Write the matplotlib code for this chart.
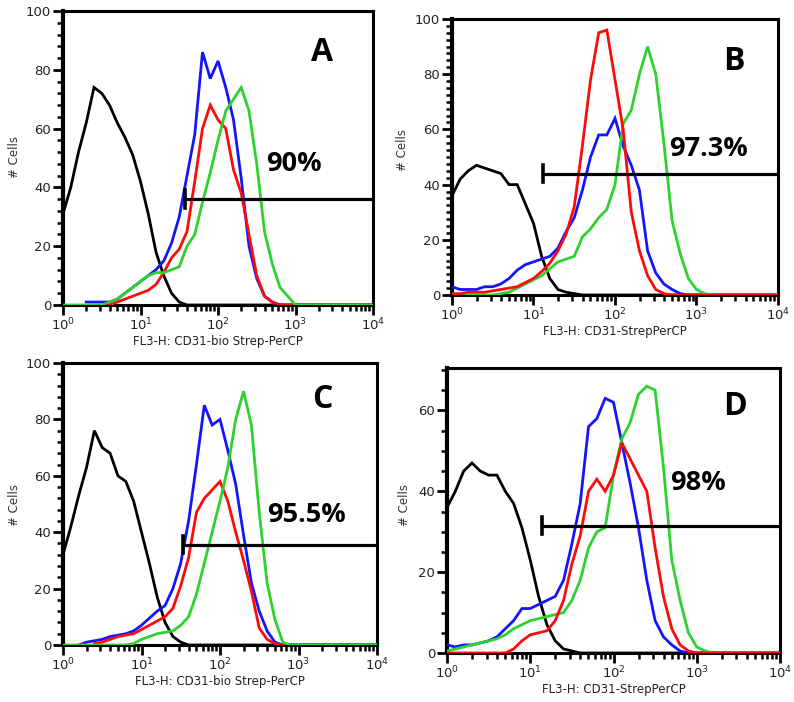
import numpy as np
import matplotlib
matplotlib.use("Agg")
import matplotlib.pyplot as plt
from matplotlib.ticker import LogLocator, MultipleLocator, NullFormatter

# channel grid: log10 decades 0.0 .. 4.0 in steps of 0.1
decades = np.round(np.arange(0, 41) * 0.1, 1)

# ---- Panel A ----
a_black = (0.0, [31, 40, 52, 62, 74, 72, 68, 62, 57, 51, 42, 31, 18, 10, 4, 1, 0])
a_blue = (0.3, [1, 1, 1, 1, 2, 4, 6, 8, 10, 12, 15, 21, 30, 44, 58, 86, 77, 83, 74, 63, 43, 20, 9, 3, 1, 0])
a_red = (0.6, [0, 1, 2, 3, 4, 5, 7, 11, 16, 19, 25, 42, 60, 68, 63, 60, 46, 38, 24, 10, 3, 1, 0])
a_green = (0.0, [0, 0, 0, 0, 0, 0, 1, 2, 4, 6, 8, 10, 11, 11, 12, 13, 20, 24, 35, 45, 56, 66, 70, 74, 66, 48, 25, 14, 6, 3, 0])

# ---- Panel B ----
b_black = (0.0, [36, 42, 45, 47, 46, 45, 44, 40, 40, 33, 26, 14, 6, 2, 1, 0.5, 0])
b_blue = (0.0, [3, 2, 2, 2, 3, 3, 4, 6, 9, 11, 12, 13, 14, 17, 23, 28, 38, 50, 58, 58, 64, 54, 47, 38, 16, 8, 4, 2, 0.5, 0])
b_green = (0.0, [0, 0, 0, 0, 0, 0, 0.5, 1, 2.5, 4, 5.5, 7, 9.5, 12, 13, 14, 21, 24, 28, 31, 40, 62, 67, 80, 90, 80, 55, 27, 15, 6, 2, 0.5, 0])
b_red = (0.0, [0.5, 0.5, 1, 1, 1, 1.5, 2, 2.5, 3, 4.5, 6, 8.5, 11.5, 16, 22, 32, 54, 78, 95, 96, 78, 60, 30, 16, 7, 2, 0.5, 0])

# ---- Panel C ----
c_black = (0.0, [32, 42, 53, 63, 76, 70, 68, 60, 58, 51, 40, 29, 17, 8, 3, 1, 0])
c_blue = (0.2, [0, 1, 1.5, 2, 3, 3.5, 4, 5, 7, 9.5, 12, 14, 20, 29, 44, 64, 85, 78, 80, 69, 57, 39, 22, 12, 5, 1, 0])
c_red = (0.4, [0.5, 1, 2, 3, 3.5, 4, 5.5, 7, 8.5, 10, 13, 21, 31, 47, 52, 55, 58, 51, 40, 30, 19, 6, 2, 0.5, 0])
c_green = (0.0, [0, 0, 0, 0, 0, 0, 0, 0, 0, 0.5, 2, 3, 4, 4.5, 5, 7, 10, 18, 29, 40, 51, 63, 80, 90, 78, 47, 22, 9, 1, 0])

# ---- Panel D ----
d_black = (0.0, [36, 40, 45, 47, 45, 44, 44, 40, 37, 31, 23, 14, 7, 3, 1, 0.5, 0])
d_blue = (0.0, [2, 1.5, 2, 2, 2.5, 3, 4, 6, 8, 11, 11, 12, 13, 14, 18, 27, 37, 56, 58, 63, 62, 52, 42, 31, 18, 8, 4, 2, 0.5, 0])
d_green = (0.0, [0.5, 1, 1.5, 2, 2.5, 3, 3.5, 4.5, 6, 7, 8, 8.5, 9, 9.5, 10, 13, 18, 26, 30, 31, 44, 53, 57, 64, 66, 65, 46, 23, 13, 5, 1.5, 0.5, 0])
d_red = (0.0, [0, 0, 0, 0, 0, 0, 0, 0, 1, 3, 4.5, 5, 5.5, 8, 13, 22, 29, 40, 43, 40, 44, 52, 48, 44, 40, 26, 14, 6, 2, 0.5, 0])

panel_letters = ["A", "B", "C", "D"]
percents = ["90%", "97.3%", "95.5%", "98%"]
gate_start = [37, 13, 34, 14]       # gate marker start (FL3-H)
gate_level = [36, 44, 35.5, 31.5]    # gate height (# cells)
ymax = [100, 100, 100, 70.5]
xlabels = ["FL3-H: CD31-bio Strep-PerCP", "FL3-H: CD31-StrepPerCP",
           "FL3-H: CD31-bio Strep-PerCP", "FL3-H: CD31-StrepPerCP"]

COL = {"black": "#000000", "blue": "#1414ff", "red": "#ff0a0a", "green": "#2fd12f"}

panels = [
    [("black", a_black), ("blue", a_blue), ("red", a_red), ("green", a_green)],
    [("black", b_black), ("blue", b_blue), ("green", b_green), ("red", b_red)],
    [("black", c_black), ("blue", c_blue), ("red", c_red), ("green", c_green)],
    [("black", d_black), ("blue", d_blue), ("green", d_green), ("red", d_red)],
]

W, H = 794, 702
boxes = [  # left, bottom(px from top), right, top(px from top)
    (63, 305, 373, 11),
    (452, 295, 778, 19),
    (63, 645, 377, 363),
    (447, 653, 780, 368),
]
text_pos = [(0.655, 0.48), (0.665, 0.53), (0.650, 0.46), (0.670, 0.595)]
letter_pos = [(0.835, 0.86), (0.865, 0.845), (0.825, 0.87), (0.865, 0.865)]
ylab_pos = [(15, 157), (402, 150), (15, 505), (404, 505)]
minor_step = [4, 2.5, 4, 5]


def series(spec):
    start, vals = spec
    y = np.full(decades.shape, np.nan)
    i0 = int(round(start * 10))
    y[i0:i0 + len(vals)] = vals
    y[i0 + len(vals):] = 0.0
    return 10 ** decades, y


fig = plt.figure(figsize=(W / 100, H / 100), dpi=100)
for k in range(4):
    l, b, r, t = boxes[k]
    ax = fig.add_axes([l / W, 1 - b / H, (r - l) / W, (b - t) / H])
    for cname, spec in panels[k]:
        x, y = series(spec)
        ax.plot(x, y, color=COL[cname], lw=2.0, solid_joinstyle="miter", zorder=3)
    ax.set_xscale("log")
    ax.set_xlim(1, 1e4)
    ax.set_ylim(0, ymax[k])
    # gate
    g0, gl = gate_start[k], gate_level[k]
    ax.plot([g0, 1e4], [gl, gl], color="black", lw=2.3, zorder=4, solid_capstyle="butt")
    ax.plot([g0, g0], [gl - ymax[k] * 0.03, gl + ymax[k] * 0.03], color="black", lw=2.6, zorder=4)
    ax.text(*text_pos[k], percents[k], transform=ax.transAxes, fontsize=19.5,
            fontweight="bold", family="Open Sans", va="center", ha="left", zorder=5)
    ax.text(*letter_pos[k], panel_letters[k], transform=ax.transAxes, fontsize=23,
            fontweight="bold", family="Open Sans", va="center", ha="center", zorder=5)
    for s in ax.spines.values():
        s.set_linewidth(2.2)
        s.set_color("black")
    ax.spines["left"].set_linewidth(3.0)
    ax.yaxis.set_major_locator(MultipleLocator(20))
    ax.yaxis.set_minor_locator(MultipleLocator(minor_step[k]))
    ax.xaxis.set_major_locator(LogLocator(base=10, numticks=10))
    ax.xaxis.set_minor_locator(LogLocator(base=10, subs=np.arange(2, 10), numticks=10))
    ax.xaxis.set_minor_formatter(NullFormatter())
    ax.tick_params(axis="both", which="major", direction="out", length=7, width=2,
                   labelsize=9.5, colors="black", labelcolor="#222222", pad=1.5)
    ax.tick_params(axis="both", which="minor", direction="out", length=4, width=1.8)
    ax.set_xlabel(xlabels[k], fontsize=8.5, color="#222222", labelpad=1)
    fig.text(ylab_pos[k][0] / W, 1 - ylab_pos[k][1] / H, "# Cells", rotation=90,
             fontsize=8.5, color="#333333", ha="center", va="center")

fig.savefig("out.png", dpi=100, facecolor="white")
